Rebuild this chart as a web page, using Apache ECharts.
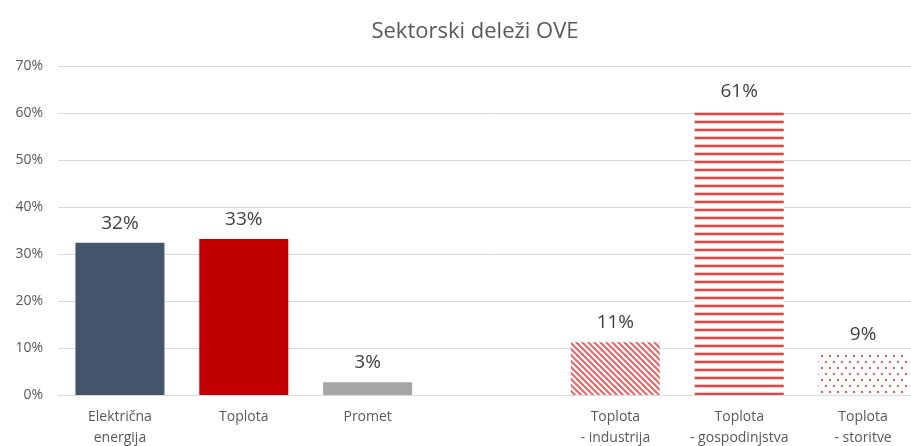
<!DOCTYPE html>
<html>
<head>
<meta charset="utf-8">
<script src="https://cdn.jsdelivr.net/npm/echarts@6/dist/echarts.min.js"></script>
<style>html,body{margin:0;padding:0;background:#fff;overflow:hidden;width:911px;height:446px}#c{width:926px;height:446px}</style>
</head>
<body>
<div id="c"></div>
<script>
const categories = ['Električna\nenergija', 'Toplota', 'Promet', '', 'Toplota\n- industrija', 'Toplota\n- gospodinjstva', 'Toplota\n- storitve'];
const values = [32.4, 33.2, 2.7, null, 11.2, 60.5, 8.8];
const yTicks = [0, 10, 20, 30, 40, 50, 60, 70];

function makeCanvas(w, h, draw) {
  const c = document.createElement('canvas');
  c.width = w; c.height = h;
  const ctx = c.getContext('2d');
  ctx.fillStyle = '#ffffff';
  ctx.fillRect(0, 0, w, h);
  draw(ctx);
  return c;
}
const diagPat = makeCanvas(6, 6, ctx => {
  ctx.strokeStyle = '#e46a6a';
  ctx.lineWidth = 2.2;
  for (let k = -2; k <= 2; k++) {
    ctx.beginPath();
    ctx.moveTo(k * 6 - 1, -1);
    ctx.lineTo(k * 6 + 7, 7);
    ctx.stroke();
  }
});
const hPat = makeCanvas(8, 8, ctx => {
  ctx.fillStyle = '#f2c4c4';
  ctx.fillRect(0, 0, 8, 4);
  ctx.fillStyle = '#d84848';
  ctx.fillRect(0, 1, 8, 2);
});
const dotPat = makeCanvas(8, 12, ctx => {
  ctx.fillStyle = '#e35a5a';
  ctx.fillRect(1, 1, 2, 2);
  ctx.fillRect(5, 7, 2, 2);
});

const colors = ['#44546a', '#c00000', '#a5a5a5', '#ffffff',
  {image: diagPat, repeat: 'repeat'},
  {image: hPat, repeat: 'repeat'},
  {image: dotPat, repeat: 'repeat'}];

const chart = echarts.init(document.getElementById('c'), null, {renderer: 'canvas'});
chart.setOption({
  animation: false,
  backgroundColor: '#ffffff',
  title: {
    text: 'Sektorski deleži OVE',
    left: 470, top: 16,
    textAlign: 'center',
    textStyle: {fontFamily: 'Open Sans', fontSize: 22, fontWeight: 'normal', color: '#595959'}
  },
  grid: {left: 58, right: 1, top: 66, bottom: 51, containLabel: false, outerBoundsMode: 'none'},
  xAxis: {
    type: 'category',
    data: categories,
    axisLine: {lineStyle: {color: '#d9d9d9'}},
    axisTick: {show: false},
    axisLabel: {fontFamily: 'Open Sans', fontSize: 14, color: '#595959', lineHeight: 21, margin: 12, interval: 0}
  },
  yAxis: {
    type: 'value',
    min: yTicks[0], max: yTicks[yTicks.length - 1], interval: 10,
    axisLabel: {fontFamily: 'Open Sans', fontSize: 14, color: '#595959', margin: 15, formatter: v => v + '%'},
    splitLine: {lineStyle: {color: '#d9d9d9'}},
    axisLine: {show: false}, axisTick: {show: false}
  },
  series: [{
    type: 'bar',
    barWidth: 89,
    data: values.map((v, i) => ({value: v, itemStyle: {color: colors[i]}})),
    label: {
      show: true, position: 'top', distance: 10,
      fontFamily: 'Open Sans', fontSize: 19, color: '#404040',
      formatter: p => p.value == null ? '' : Math.round(p.value) + '%'
    }
  }]
});
</script>
</body>
</html>
